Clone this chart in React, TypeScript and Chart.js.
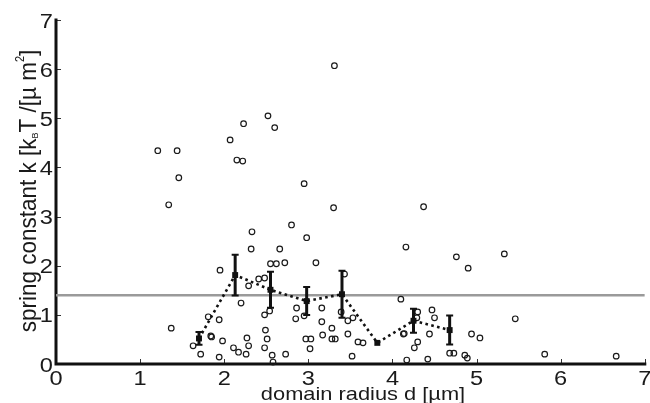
import React, { useEffect, useRef } from "react";
import { Chart, registerables } from "chart.js";

Chart.register(...registerables);

// Individual measurements: domain radius d [µm] and spring constant k [kBT/µm²]
const radiusD: number[] = [
  1.21, 1.44, 1.46, 1.34, 2.07, 2.23, 2.52, 2.60, 2.15, 2.22,
  2.80, 2.33, 2.32, 2.66, 3.31, 2.95, 3.30, 4.37, 2.98, 4.76,
  4.90, 5.33, 5.46, 4.94, 5.04, 4.68, 4.73, 4.86, 4.89, 5.81,
  6.66, 1.95, 2.55, 2.62, 2.72, 3.09, 2.41, 2.48, 2.29, 2.20,
  1.37, 1.81, 1.94, 1.84, 1.85, 1.63, 1.72, 1.98, 1.94, 2.11,
  2.17, 2.26, 2.27, 2.29, 2.49, 2.51, 2.48, 2.48, 2.54, 2.57,
  2.58, 2.73, 2.86, 2.85, 2.95, 2.97, 3.03, 3.02, 3.16, 3.16,
  3.17, 3.43, 3.39, 3.47, 3.53, 3.28, 3.28, 3.32, 3.47, 3.59,
  3.65, 3.52, 4.10, 4.16, 4.13, 4.14, 4.26, 4.30, 4.30, 4.29,
  4.47, 4.50, 4.44, 4.17, 4.42,
];
const springK: number[] = [
  4.34, 4.34, 3.79, 3.24, 4.56, 4.89, 5.05, 4.81, 4.15, 4.13,
  2.83, 2.69, 2.34, 2.34, 6.07, 3.67, 3.18, 3.20, 2.57, 2.18,
  1.95, 2.24, 0.92, 0.61, 0.53, 0.22, 0.22, 0.18, 0.12, 0.20,
  0.16, 1.91, 2.04, 2.04, 2.06, 2.06, 1.73, 1.75, 1.59, 1.24,
  0.73, 0.96, 0.90, 0.57, 0.55, 0.37, 0.20, 0.47, 0.14, 0.33,
  0.24, 0.20, 0.53, 0.37, 0.69, 0.51, 0.33, 1.00, 1.08, 0.18,
  0.04, 0.20, 1.14, 0.92, 0.98, 0.51, 0.51, 0.31, 1.14, 0.86,
  0.59, 1.83, 1.06, 0.88, 0.94, 0.73, 0.51, 0.51, 0.61, 0.45,
  0.43, 0.16, 1.32, 2.38, 0.61, 0.62, 0.33, 0.45, 1.06, 0.94,
  1.10, 0.94, 0.61, 0.08, 0.10,
];

// Binned means with their error half-widths
const binRadius: number[] = [1.70, 2.13, 2.55, 2.98, 3.40, 3.82, 4.25, 4.68];
const binMeanK: number[] = [0.52, 1.81, 1.51, 1.28, 1.42, 0.43, 0.88, 0.69];
const binErrK: number[] = [0.13, 0.415, 0.365, 0.285, 0.48, 0, 0.245, 0.295];

// Overall reference level
const referenceK = 1.4;

// Axis ticks
const xTicks: number[] = [0, 1, 2, 3, 4, 5, 6, 7];
const yTicks: number[] = [0, 1, 2, 3, 4, 5, 6, 7];

const FONT = "'Liberation Sans', Arial, Helvetica, sans-serif";

type Seg = { t: string; kind: "n" | "sub" | "sup" };

function segSize(kind: Seg["kind"], size: number) {
  if (kind === "sub") return Math.round(size * 0.42);
  if (kind === "sup") return Math.round(size * 0.5);
  return size;
}

// Draw a run of text (with optional sub/superscripts), origin at the baseline;
// sx widens the glyphs along the text, sy scales them across it.
function drawRun(
  ctx: CanvasRenderingContext2D,
  segs: Seg[],
  size: number,
  align: "center" | "right" | "left",
  sx: number,
  sy: number
) {
  let total = 0;
  const widths: number[] = [];
  for (const s of segs) {
    ctx.font = `${segSize(s.kind, size)}px ${FONT}`;
    const w = ctx.measureText(s.t).width;
    widths.push(w);
    total += w;
  }
  ctx.save();
  ctx.scale(sx, sy);
  let x = align === "center" ? -total / 2 : align === "right" ? -total : 0;
  ctx.textAlign = "left";
  ctx.textBaseline = "alphabetic";
  segs.forEach((s, i) => {
    ctx.font = `${segSize(s.kind, size)}px ${FONT}`;
    const dy = s.kind === "sub" ? size * 0.08 : s.kind === "sup" ? -size * 0.5 : 0;
    ctx.fillText(s.t, x, dy);
    x += widths[i];
  });
  ctx.restore();
}

const axisDecor = {
  id: "axisDecor",
  beforeDatasetsDraw(chart: any) {
    const { ctx, chartArea } = chart;
    const xs = chart.scales.x;
    const ys = chart.scales.y;
    ctx.save();
    // inward tick marks
    ctx.strokeStyle = "#333";
    ctx.lineWidth = 1;
    ctx.beginPath();
    xTicks.forEach((v) => {
      const px = Math.round(xs.getPixelForValue(v)) + 0.5;
      ctx.moveTo(px, chartArea.bottom);
      ctx.lineTo(px, chartArea.bottom - 5);
    });
    yTicks.forEach((v) => {
      const py = Math.round(ys.getPixelForValue(v)) + 0.5;
      ctx.moveTo(chartArea.left, py);
      ctx.lineTo(chartArea.left + 5, py);
    });
    ctx.stroke();
    // axis lines
    ctx.strokeStyle = "#111";
    ctx.lineWidth = 3;
    ctx.lineCap = "square";
    ctx.beginPath();
    ctx.moveTo(chartArea.left, ys.getPixelForValue(7));
    ctx.lineTo(chartArea.left, chartArea.bottom);
    ctx.lineTo(xs.getPixelForValue(7), chartArea.bottom);
    ctx.stroke();
    ctx.restore();
  },
  afterDatasetsDraw(chart: any) {
    const { ctx } = chart;
    const xs = chart.scales.x;
    const ys = chart.scales.y;
    ctx.save();
    ctx.strokeStyle = "#111";
    binRadius.forEach((r, i) => {
      const e = binErrK[i];
      if (e <= 0) return;
      const px = xs.getPixelForValue(r);
      const top = ys.getPixelForValue(binMeanK[i] + e);
      const bot = ys.getPixelForValue(binMeanK[i] - e);
      ctx.lineWidth = 3;
      ctx.beginPath();
      ctx.moveTo(px, top);
      ctx.lineTo(px, bot);
      ctx.stroke();
      ctx.lineWidth = 2;
      ctx.beginPath();
      ctx.moveTo(px - 3.5, top);
      ctx.lineTo(px + 3.5, top);
      ctx.moveTo(px - 3.5, bot);
      ctx.lineTo(px + 3.5, bot);
      ctx.stroke();
    });
    ctx.restore();
  },
  afterDraw(chart: any) {
    const { ctx, chartArea } = chart;
    const xs = chart.scales.x;
    const ys = chart.scales.y;
    ctx.save();
    ctx.fillStyle = "#1a1a1a";
    // tick labels
    xTicks.forEach((v) => {
      ctx.save();
      ctx.translate(xs.getPixelForValue(v), chartArea.bottom + 21);
      drawRun(ctx, [{ t: String(v), kind: "n" }], 20, "center", 1.18, 1);
      ctx.restore();
    });
    yTicks.forEach((v) => {
      ctx.save();
      ctx.translate(chartArea.left - 3, ys.getPixelForValue(v) + 7.5);
      drawRun(ctx, [{ t: String(v), kind: "n" }], 20, "right", 1.18, 1);
      ctx.restore();
    });
    // x title
    ctx.save();
    ctx.translate(363, 400);
    drawRun(ctx, [{ t: "domain radius d [µm]", kind: "n" }], 18.5, "center", 1.18, 1);
    ctx.restore();
    // y title, reading bottom to top
    ctx.save();
    ctx.translate(36, 191);
    ctx.rotate(-Math.PI / 2);
    drawRun(
      ctx,
      [
        { t: "spring constant k [k", kind: "n" },
        { t: "B", kind: "sub" },
        { t: "T /[µ m", kind: "n" },
        { t: "2", kind: "sup" },
        { t: "]", kind: "n" },
      ],
      22.5,
      "center",
      1,
      1.1
    );
    ctx.restore();
    ctx.restore();
  },
};

export default function App() {
  const ref = useRef<HTMLCanvasElement | null>(null);

  useEffect(() => {
    if (!ref.current) return;
    const chart = new Chart(ref.current, {
      type: "scatter",
      data: {
        datasets: [
          {
            label: "reference",
            data: [
              { x: 0, y: referenceK },
              { x: 7, y: referenceK },
            ],
            showLine: true,
            borderColor: "#9a9a9a",
            borderWidth: 2.5,
            pointRadius: 0,
            order: 3,
          } as any,
          {
            label: "measurements",
            data: radiusD.map((d, i) => ({ x: d, y: springK[i] })),
            pointStyle: "circle",
            pointRadius: 2.8,
            borderWidth: 1.2,
            borderColor: "#1a1a1a",
            backgroundColor: "rgba(0,0,0,0)",
            clip: false,
            order: 2,
          } as any,
          {
            label: "binned mean",
            data: binRadius.map((d, i) => ({ x: d, y: binMeanK[i] })),
            showLine: true,
            borderColor: "#111",
            borderWidth: 2.6,
            borderDash: [2.6, 3.4],
            pointStyle: "rect",
            pointRadius: 4.2,
            pointBorderWidth: 0,
            pointBackgroundColor: "#111",
            clip: false,
            order: 1,
          } as any,
        ],
      },
      options: {
        responsive: false,
        animation: false,
        devicePixelRatio: 1,
        events: [],
        layout: { padding: { top: 20, right: 5, left: 0, bottom: 0 } },
        plugins: {
          legend: { display: false },
          tooltip: { enabled: false },
        },
        scales: {
          x: {
            type: "linear",
            min: 0,
            max: 7,
            ticks: { display: false, stepSize: 1 },
            grid: { display: false },
            border: { display: false },
            afterFit: (s: any) => {
              s.height = 39;
            },
          },
          y: {
            type: "linear",
            min: 0,
            max: 7,
            ticks: { display: false, stepSize: 1 },
            grid: { display: false },
            border: { display: false },
            afterFit: (s: any) => {
              s.width = 56;
            },
          },
        },
      },
      plugins: [axisDecor],
    });
    return () => chart.destroy();
  }, []);

  return (
    <div style={{ position: "fixed", left: 0, top: 0, width: 650, height: 403, background: "#fff" }}>
      <canvas ref={ref} width={650} height={403} />
    </div>
  );
}
